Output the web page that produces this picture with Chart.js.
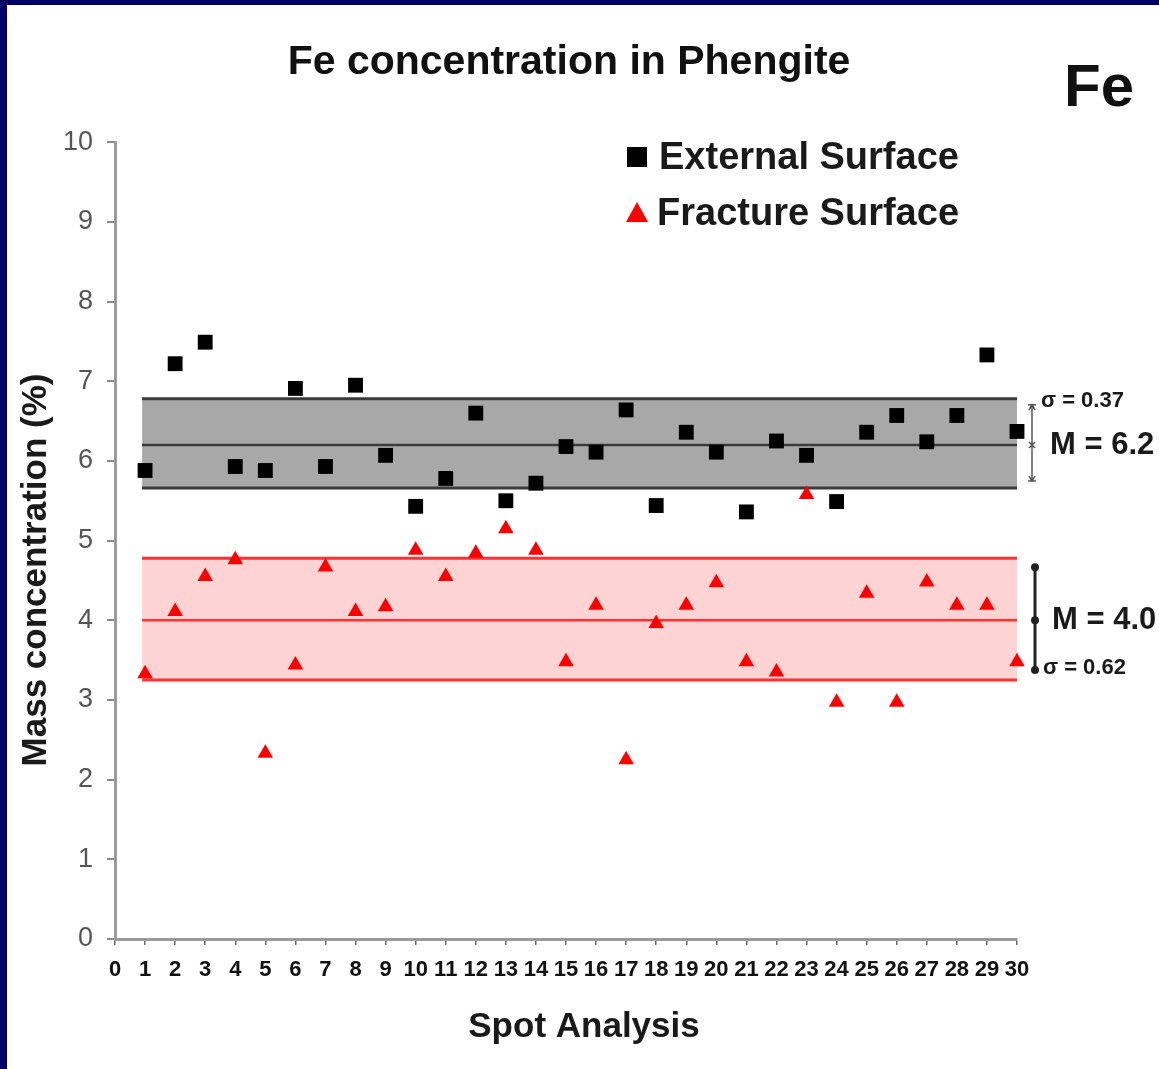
<!DOCTYPE html>
<html><head><meta charset="utf-8">
<script src="https://cdn.jsdelivr.net/npm/chart.js@4.4.0/dist/chart.umd.min.js"></script>
<style>
html,body{margin:0;padding:0;background:#000066;width:1159px;height:1069px;overflow:hidden}
#wrap{position:absolute;left:7px;top:5px;width:1152px;height:1064px;background:#fff}
canvas{display:block}
</style></head><body>
<div id="wrap"><canvas id="c" width="1152" height="1064" style="width:1152px;height:1064px"></canvas></div>
<script>
const chartTitle = 'Fe concentration in Phengite';
const elementLabel = 'Fe';
const xTitle = 'Spot Analysis';
const yTitle = 'Mass concentration (%)';
const seriesNames = ['External Surface', 'Fracture Surface'];
const spots = [1,2,3,4,5,6,7,8,9,10,11,12,13,14,15,16,17,18,19,20,21,22,23,24,25,26,27,28,29,30];
const externalSurface = [5.88,7.22,7.49,5.93,5.88,6.91,5.93,6.95,6.07,5.43,5.78,6.60,5.50,5.72,6.18,6.11,6.64,5.44,6.36,6.11,5.36,6.25,6.07,5.49,6.36,6.57,6.24,6.57,7.33,6.37];
const fractureSurface = [3.33,4.11,4.55,4.76,2.33,3.44,4.67,4.11,4.17,4.88,4.55,4.84,5.15,4.88,3.48,4.19,2.25,3.96,4.19,4.47,3.48,3.35,5.58,2.97,4.34,2.97,4.48,4.19,4.19,3.48];
const bandRange = [0.9, 30];
const externalBand = [6.78, 6.2, 5.66];   // upper, mean, lower
const fractureBand = [4.78, 4.0, 3.25];   // upper, mean, lower
const externalStats = ['σ = 0.37', 'M = 6.2'];
const fractureStats = ['σ = 0.62', 'M = 4.0'];
const xTicks = [0,1,2,3,4,5,6,7,8,9,10,11,12,13,14,15,16,17,18,19,20,21,22,23,24,25,26,27,28,29,30];
const yTicks = [0,1,2,3,4,5,6,7,8,9,10];

const FAM = '"Liberation Sans", Arial, Helvetica, sans-serif';
const pts = arr => spots.map((s, i) => ({x: s, y: arr[i]}));
const hline = v => bandRange.map(x => ({x, y: v}));

const GRAY_LINE = '#3a3a3a', GRAY_FILL = '#a8a8a8';
const RED_LINE = '#ff3030', RED_FILL = '#fdd3d4';

const lineDs = (v, color, w, fill, bg) => ({
  data: hline(v), showLine: true, pointRadius: 0, borderColor: color, borderWidth: w,
  fill: fill, backgroundColor: bg || 'transparent', tension: 0
});

const datasets = [
  {label: seriesNames[0], data: pts(externalSurface), pointStyle: 'rect', pointRadius: 10.5,
   backgroundColor: '#000', borderColor: '#000', borderWidth: 0, showLine: false, clip: false},
  {label: seriesNames[1], data: pts(fractureSurface), pointStyle: 'triangle', pointRadius: 9,
   backgroundColor: '#ff0000', borderColor: '#ff0000', borderWidth: 0, showLine: false, clip: false},
  lineDs(externalBand[0], GRAY_LINE, 3, 4, GRAY_FILL),
  lineDs(externalBand[1], GRAY_LINE, 2.5, false),
  lineDs(externalBand[2], GRAY_LINE, 3, false),
  lineDs(fractureBand[0], RED_LINE, 3, 7, RED_FILL),
  lineDs(fractureBand[1], RED_LINE, 2.5, false),
  lineDs(fractureBand[2], RED_LINE, 3, false)
];

const decor = {
  id: 'decor',
  afterDraw(chart) {
    const {ctx, chartArea: ca, scales: {y}} = chart;
    const ds = chart.data.datasets;
    ctx.save();
    // element label
    ctx.fillStyle = '#111';
    ctx.font = 'bold 60px ' + FAM;
    ctx.textAlign = 'left'; ctx.textBaseline = 'middle';
    ctx.fillText(elementLabel, 1057, 84);
    // legend
    ctx.fillStyle = ds[0].backgroundColor;
    ctx.fillRect(620, 142, 20, 20);
    ctx.fillStyle = ds[1].backgroundColor;
    ctx.beginPath(); ctx.moveTo(630, 197); ctx.lineTo(641, 217); ctx.lineTo(619, 217); ctx.closePath(); ctx.fill();
    ctx.fillStyle = '#1a1a1a';
    ctx.font = 'bold 38px ' + FAM;
    ctx.fillText(ds[0].label, 652, 154);
    ctx.fillText(ds[1].label, 650, 210);
    // axis titles
    ctx.font = 'bold 35px ' + FAM;
    ctx.textAlign = 'center';
    ctx.fillText(xTitle, 577, 1022);
    ctx.save();
    ctx.translate(29, 565); ctx.rotate(-Math.PI / 2);
    ctx.fillText(yTitle, 0, 0);
    ctx.restore();
    // external stats bar
    const gx = ca.right + 15;
    const gt = y.getPixelForValue(externalBand[0]) + 6;
    const gm = y.getPixelForValue(externalBand[1]);
    const gb = y.getPixelForValue(externalBand[2]) - 7;
    ctx.strokeStyle = '#555'; ctx.lineWidth = 1.5;
    ctx.beginPath(); ctx.moveTo(gx, gt); ctx.lineTo(gx, gb);
    ctx.moveTo(gx - 4, gt); ctx.lineTo(gx + 4, gt);
    ctx.moveTo(gx - 4, gb); ctx.lineTo(gx + 4, gb);
    ctx.moveTo(gx - 3, gt + 5); ctx.lineTo(gx, gt); ctx.lineTo(gx + 3, gt + 5);
    ctx.moveTo(gx - 3, gb - 5); ctx.lineTo(gx, gb); ctx.lineTo(gx + 3, gb - 5);
    ctx.moveTo(gx - 3, gm - 3); ctx.lineTo(gx + 3, gm + 3);
    ctx.moveTo(gx + 3, gm - 3); ctx.lineTo(gx - 3, gm + 3);
    ctx.stroke();
    ctx.fillStyle = '#1a1a1a'; ctx.textAlign = 'left';
    ctx.font = 'bold 22px ' + FAM;
    ctx.fillText(externalStats[0], ca.right + 24, gt - 4);
    ctx.font = 'bold 31px ' + FAM;
    ctx.fillText(externalStats[1], ca.right + 33, gm);
    // fracture stats bar
    const rx = ca.right + 18;
    const rt = y.getPixelForValue(fractureBand[0]) + 9;
    const rm = y.getPixelForValue(fractureBand[1]);
    const rb = y.getPixelForValue(fractureBand[2]) - 10;
    ctx.strokeStyle = '#222'; ctx.lineWidth = 3;
    ctx.beginPath(); ctx.moveTo(rx, rt); ctx.lineTo(rx, rb); ctx.stroke();
    ctx.fillStyle = '#222';
    [rt, rm, rb].forEach(v => { ctx.beginPath(); ctx.arc(rx, v, 4, 0, Math.PI * 2); ctx.fill(); });
    ctx.fillStyle = '#1a1a1a';
    ctx.font = 'bold 31px ' + FAM;
    ctx.fillText(fractureStats[1], ca.right + 35, rm);
    ctx.font = 'bold 22px ' + FAM;
    ctx.fillText(fractureStats[0], ca.right + 26, rb - 2);
    ctx.restore();
  }
};

new Chart(document.getElementById('c'), {
  type: 'scatter',
  data: {datasets},
  options: {
    responsive: false,
    animation: false,
    events: [],
    layout: {padding: {left: 0, top: 0, right: 28, bottom: 0}},
    plugins: {
      legend: {display: false},
      tooltip: {enabled: false},
      filler: {drawTime: 'beforeDatasetsDraw'},
      title: {
        display: true, text: chartTitle, color: '#111',
        font: {family: FAM, size: 41, weight: 'bold'},
        padding: {top: 33, bottom: 55}
      }
    },
    scales: {
      x: {
        type: 'linear', min: 0, max: 30,
        afterBuildTicks: s => { s.ticks = xTicks.map(v => ({value: v})); },
        afterFit: s => { s.height = 130; },
        ticks: {autoSkip: false, maxRotation: 0, minRotation: 0, padding: 12, color: '#111',
                font: {family: FAM, size: 22, weight: 'bold'}},
        grid: {drawOnChartArea: false, drawTicks: true, tickLength: 6, color: '#666', lineWidth: 1.5},
        border: {display: true, color: '#9a9a9a', width: 3}
      },
      y: {
        type: 'linear', min: 0, max: 10, position: 'left',
        afterBuildTicks: s => { s.ticks = yTicks.map(v => ({value: v})); },
        afterFit: s => { s.width = 108; },
        ticks: {padding: 14, color: '#555', font: {family: FAM, size: 27}},
        grid: {drawOnChartArea: false, drawTicks: true, tickLength: 8, color: '#8a8a8a', lineWidth: 2},
        border: {display: true, color: '#9a9a9a', width: 3}
      },
      yR: {
        type: 'linear', min: 0, max: 10, position: 'right', display: true,
        afterFit: s => { s.width = 114; },
        ticks: {display: false},
        grid: {display: false, drawTicks: false},
        border: {display: false}
      }
    }
  },
  plugins: [decor]
});
</script>
</body></html>
